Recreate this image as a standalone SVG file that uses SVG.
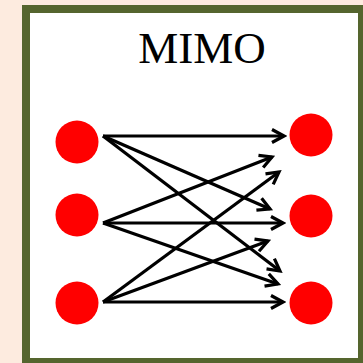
<svg xmlns="http://www.w3.org/2000/svg" width="363" height="363" viewBox="0 0 363 363">
<defs>
<marker id="ah" markerUnits="userSpaceOnUse" markerWidth="18" markerHeight="18" viewBox="-3 -3 18 18" refX="12" refY="6.5" orient="auto">
<path d="M0,0 L12,6.5 L0,13" fill="none" stroke="#000" stroke-width="3.2" stroke-linejoin="miter"/>
</marker>
</defs>
<style>
.n{fill:#ff0000}
.e{stroke:#000;stroke-width:3.2;fill:none;marker-end:url(#ah)}
</style>
<rect x="0" y="0" width="363" height="363" fill="#fdebdf"/>
<rect x="26" y="9" width="336" height="353" fill="#ffffff" stroke="#55652e" stroke-width="8"/>
<text x="202" y="63" font-family="Liberation Serif, serif" font-size="45" text-anchor="middle" fill="#000">MIMO</text>
<g id="tx1"><circle class="n" cx="77" cy="142" r="21.5"/></g>
<g id="tx2"><circle class="n" cx="77" cy="215" r="21.5"/></g>
<g id="tx3"><circle class="n" cx="77" cy="303" r="21.5"/></g>
<g id="rx1"><circle class="n" cx="311" cy="135" r="21.5"/></g>
<g id="rx2"><circle class="n" cx="311" cy="216" r="21.5"/></g>
<g id="rx3"><circle class="n" cx="311" cy="303" r="21.5"/></g>
<g id="connectors">
<line class="e" x1="103" y1="136" x2="284" y2="136"/>
<line class="e" x1="103" y1="136" x2="270" y2="209"/>
<line class="e" x1="103" y1="136" x2="280" y2="271"/>
<line class="e" x1="103" y1="223" x2="272" y2="157"/>
<line class="e" x1="103" y1="223" x2="283" y2="223"/>
<line class="e" x1="103" y1="223" x2="278" y2="284"/>
<line class="e" x1="103" y1="302" x2="279" y2="172"/>
<line class="e" x1="103" y1="302" x2="268" y2="241"/>
<line class="e" x1="103" y1="302" x2="283" y2="302"/>
</g>
</svg>
